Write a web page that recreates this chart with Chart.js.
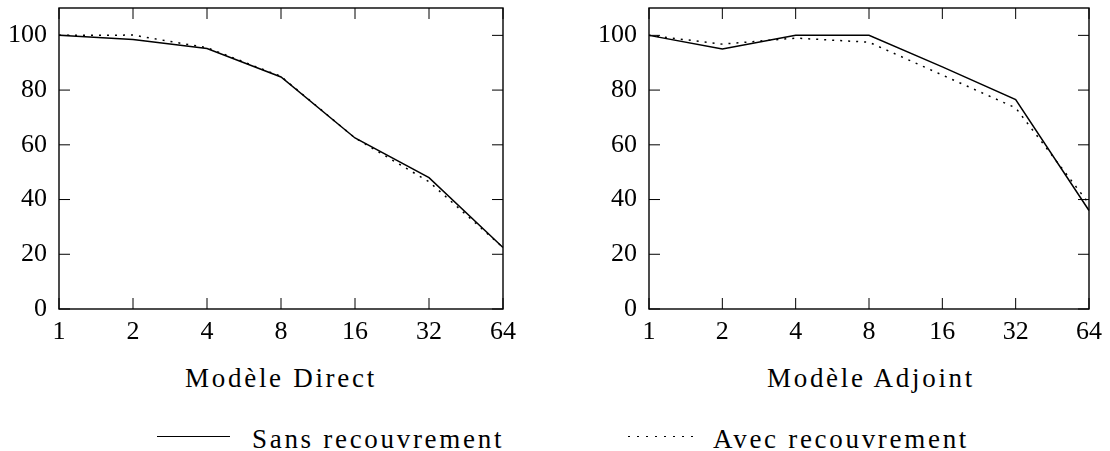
<!DOCTYPE html>
<html>
<head>
<meta charset="utf-8">
<script src="https://cdn.jsdelivr.net/npm/chart.js@4/dist/chart.umd.min.js"></script>
<style>
  body { margin: 0; background: #fff; }
  #page { position: relative; width: 1110px; height: 451px; overflow: hidden; }
  canvas { position: absolute; top: 0; }
  .titre, .legende {
    position: absolute;
    font-family: 'Liberation Serif', serif;
    font-size: 27px;
    line-height: 27px;
    color: #000;
    letter-spacing: 2.7px;
    white-space: nowrap;
  }
  .titre { top: 365px; text-align: center; }
  .trait { position: absolute; height: 1.4px; }
</style>
</head>
<body>
<div id="page">
  <canvas id="direct" width="555" height="352" style="left:0"></canvas>
  <canvas id="adjoint" width="520" height="352" style="left:590px"></canvas>

  <div class="titre" style="left:59px; width:444px">Modèle Direct</div>
  <div class="titre" style="left:649px; width:444px">Modèle Adjoint</div>

  <div class="trait" style="left:157px; top:436px; width:73px; background:#000"></div>
  <div class="legende" style="left:252px; top:426px">Sans recouvrement</div>
  <div class="trait" style="left:628px; top:436px; width:70px; background:repeating-linear-gradient(to right, #000 0 2px, transparent 2px 9px)"></div>
  <div class="legende" style="left:713px; top:426px">Avec recouvrement</div>
</div>

<script>
// Nombre de processeurs (axe x) et graduations de l'axe y
const processeurs = ['1', '2', '4', '8', '16', '32', '64'];
const graduationsY = [0, 20, 40, 60, 80, 100];

// Modèle Direct
const directSans = [100, 98.5, 95.2, 84.8, 62.5, 48, 22.5];
const directAvec = [100, 100.1, 95.5, 85, 62.5, 46.5, 22.5];

// Modèle Adjoint
const adjointSans = [100, 95, 100, 100, 88.5, 76.5, 36];
const adjointAvec = [100, 96.8, 99, 97.5, 85.5, 73.5, 38.5];

Chart.defaults.font.family = "'Liberation Serif', serif";
Chart.defaults.font.size = 26;
Chart.defaults.color = '#000';

// Cadre autour du graphique avec des graduations vers l'intérieur
const cadre = {
    id: 'cadre',
    afterDatasetsDraw(chart) {
        const { ctx, chartArea: a, scales: { x, y } } = chart;
        const lg = 11;
        ctx.save();
        ctx.strokeStyle = '#000';
        ctx.lineWidth = 1;
        ctx.beginPath();
        x.ticks.forEach((t, i) => {
            const px = x.getPixelForTick(i);
            ctx.moveTo(px, a.bottom);
            ctx.lineTo(px, a.bottom - lg);
            ctx.moveTo(px, a.top);
            ctx.lineTo(px, a.top + lg);
        });
        y.ticks.forEach((t) => {
            const py = y.getPixelForValue(t.value);
            ctx.moveTo(a.left, py);
            ctx.lineTo(a.left + lg, py);
            ctx.moveTo(a.right, py);
            ctx.lineTo(a.right - lg, py);
        });
        ctx.stroke();
        ctx.lineWidth = 1.4;
        ctx.strokeRect(a.left, a.top, a.right - a.left, a.bottom - a.top);
        ctx.restore();
    }
};

function creerGraphique(id, sans, avec, margeDroite) {
    return new Chart(document.getElementById(id), {
        type: 'line',
        data: {
            labels: processeurs,
            datasets: [
                {
                    label: 'Sans recouvrement',
                    data: sans,
                    borderColor: '#000',
                    borderWidth: 1.5,
                    pointRadius: 0,
                    tension: 0,
                    fill: false,
                },
                {
                    label: 'Avec recouvrement',
                    data: avec,
                    borderColor: '#000',
                    borderWidth: 1.5,
                    borderDash: [2, 6],
                    pointRadius: 0,
                    tension: 0,
                    fill: false,
                },
            ],
        },
        options: {
            responsive: false,
            animation: false,
            layout: { padding: { top: 8, right: margeDroite, bottom: 0, left: 0 } },
            plugins: { legend: { display: false }, tooltip: { enabled: false } },
            scales: {
                x: {
                    offset: false,
                    grid: { display: false, drawTicks: false },
                    border: { display: false },
                    ticks: { padding: 8, maxRotation: 0, autoSkip: false },
                    afterFit: (scale) => { scale.height = 43; },
                },
                y: {
                    min: 0,
                    max: 110,
                    grid: { display: false, drawTicks: false },
                    border: { display: false },
                    ticks: { padding: 12 },
                    afterBuildTicks: (scale) => { scale.ticks = graduationsY.map((v) => ({ value: v })); },
                    afterFit: (scale) => {
                        scale.width = 59;
                        scale.paddingTop = 0;
                        scale.paddingBottom = 0;
                    },
                },
            },
        },
        plugins: [cadre],
    });
}

creerGraphique('direct', directSans, directAvec, 52);
creerGraphique('adjoint', adjointSans, adjointAvec, 17);
</script>
</body>
</html>
